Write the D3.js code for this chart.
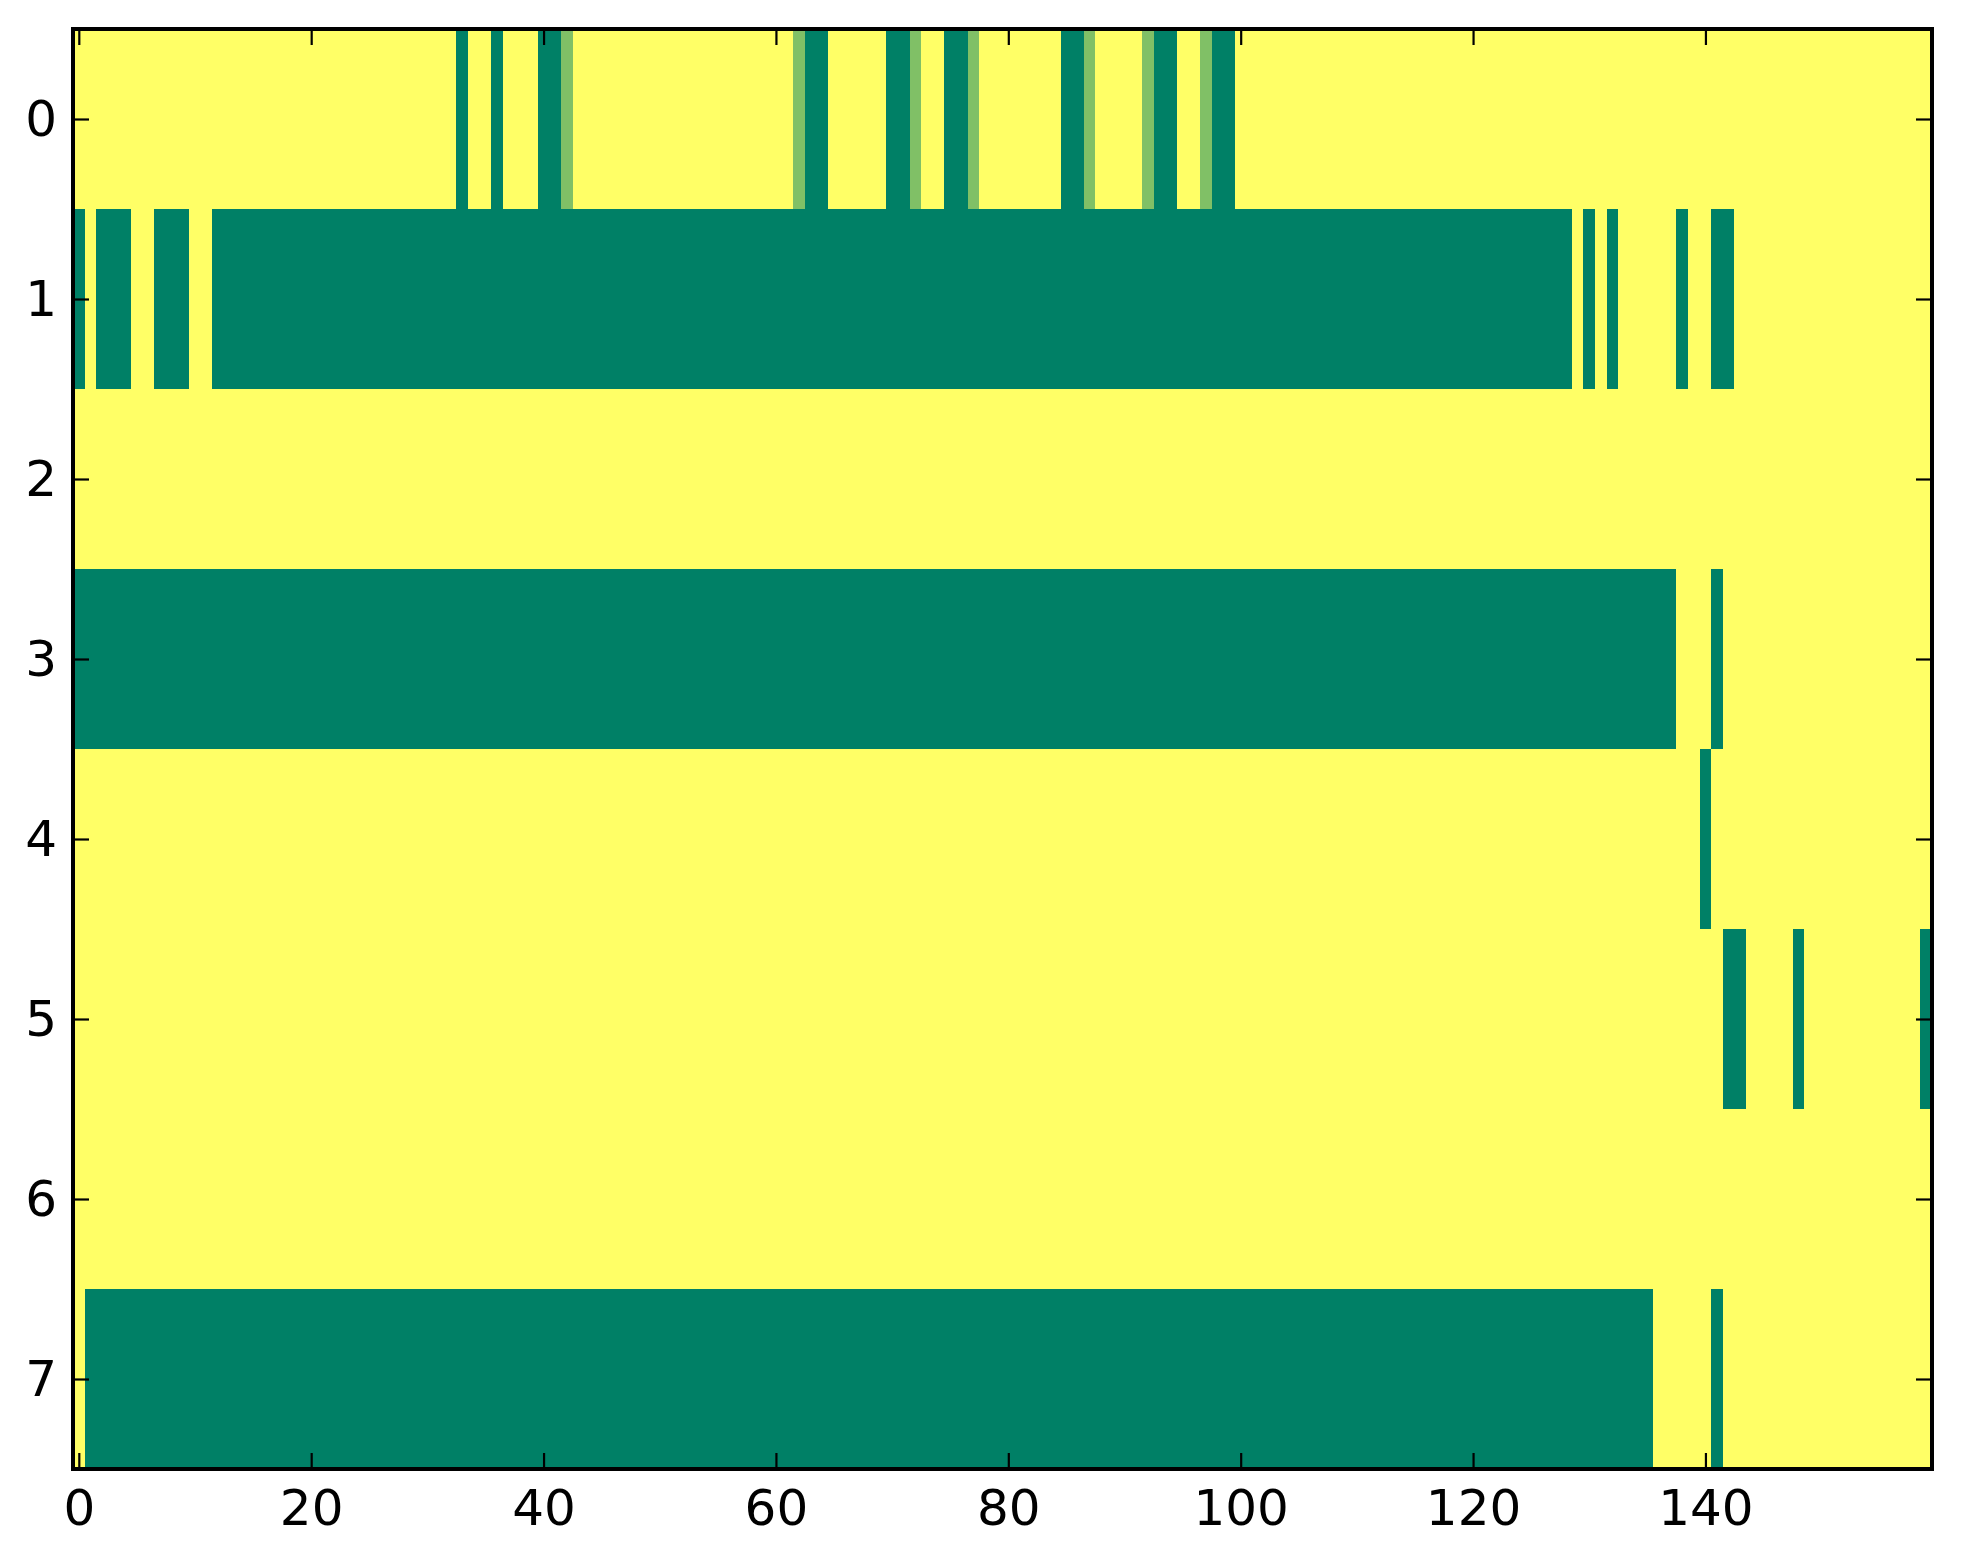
<!DOCTYPE html>
<html>
<head>
<meta charset="utf-8">
<script src="https://cdn.jsdelivr.net/npm/d3@7"></script>
<style>
  html, body { margin: 0; padding: 0; background: #ffffff; }
  svg { display: block; }
  .tick text { font-family: "DejaVu Sans", sans-serif; }
</style>
</head>
<body>
<svg id="chart" width="1963" height="1564"></svg>
<script>
// ---- data (8 rows x 160 columns; 0 = low, 0.5 = mid, 1 = high) ----
const row0 = [
  0,0,0,0,0,0,0,0,0,0, 0,0,0,0,0,0,0,0,0,0,
  0,0,0,0,0,0,0,0,0,0, 0,0,0,1,0,0,1,0,0,0,
  1,1,.5,0,0,0,0,0,0,0, 0,0,0,0,0,0,0,0,0,0,
  0,0,.5,1,1,0,0,0,0,0, 1,1,.5,0,0,1,1,.5,0,0,
  0,0,0,0,0,1,1,.5,0,0, 0,0,.5,1,1,0,0,.5,1,1,
  0,0,0,0,0,0,0,0,0,0, 0,0,0,0,0,0,0,0,0,0,
  0,0,0,0,0,0,0,0,0,0, 0,0,0,0,0,0,0,0,0,0,
  0,0,0,0,0,0,0,0,0,0, 0,0,0,0,0,0,0,0,0,0
];
const row1 = [
  1,0,1,1,1,0,0,1,1,1, 0,0,1,1,1,1,1,1,1,1,
  1,1,1,1,1,1,1,1,1,1, 1,1,1,1,1,1,1,1,1,1,
  1,1,1,1,1,1,1,1,1,1, 1,1,1,1,1,1,1,1,1,1,
  1,1,1,1,1,1,1,1,1,1, 1,1,1,1,1,1,1,1,1,1,
  1,1,1,1,1,1,1,1,1,1, 1,1,1,1,1,1,1,1,1,1,
  1,1,1,1,1,1,1,1,1,1, 1,1,1,1,1,1,1,1,1,1,
  1,1,1,1,1,1,1,1,1,0, 1,0,1,0,0,0,0,0,1,0,
  0,1,1,0,0,0,0,0,0,0, 0,0,0,0,0,0,0,0,0,0
];
const row2 = [
  0,0,0,0,0,0,0,0,0,0, 0,0,0,0,0,0,0,0,0,0,
  0,0,0,0,0,0,0,0,0,0, 0,0,0,0,0,0,0,0,0,0,
  0,0,0,0,0,0,0,0,0,0, 0,0,0,0,0,0,0,0,0,0,
  0,0,0,0,0,0,0,0,0,0, 0,0,0,0,0,0,0,0,0,0,
  0,0,0,0,0,0,0,0,0,0, 0,0,0,0,0,0,0,0,0,0,
  0,0,0,0,0,0,0,0,0,0, 0,0,0,0,0,0,0,0,0,0,
  0,0,0,0,0,0,0,0,0,0, 0,0,0,0,0,0,0,0,0,0,
  0,0,0,0,0,0,0,0,0,0, 0,0,0,0,0,0,0,0,0,0
];
const row3 = [
  1,1,1,1,1,1,1,1,1,1, 1,1,1,1,1,1,1,1,1,1,
  1,1,1,1,1,1,1,1,1,1, 1,1,1,1,1,1,1,1,1,1,
  1,1,1,1,1,1,1,1,1,1, 1,1,1,1,1,1,1,1,1,1,
  1,1,1,1,1,1,1,1,1,1, 1,1,1,1,1,1,1,1,1,1,
  1,1,1,1,1,1,1,1,1,1, 1,1,1,1,1,1,1,1,1,1,
  1,1,1,1,1,1,1,1,1,1, 1,1,1,1,1,1,1,1,1,1,
  1,1,1,1,1,1,1,1,1,1, 1,1,1,1,1,1,1,1,0,0,
  0,1,0,0,0,0,0,0,0,0, 0,0,0,0,0,0,0,0,0,0
];
const row4 = [
  0,0,0,0,0,0,0,0,0,0, 0,0,0,0,0,0,0,0,0,0,
  0,0,0,0,0,0,0,0,0,0, 0,0,0,0,0,0,0,0,0,0,
  0,0,0,0,0,0,0,0,0,0, 0,0,0,0,0,0,0,0,0,0,
  0,0,0,0,0,0,0,0,0,0, 0,0,0,0,0,0,0,0,0,0,
  0,0,0,0,0,0,0,0,0,0, 0,0,0,0,0,0,0,0,0,0,
  0,0,0,0,0,0,0,0,0,0, 0,0,0,0,0,0,0,0,0,0,
  0,0,0,0,0,0,0,0,0,0, 0,0,0,0,0,0,0,0,0,0,
  1,0,0,0,0,0,0,0,0,0, 0,0,0,0,0,0,0,0,0,0
];
const row5 = [
  0,0,0,0,0,0,0,0,0,0, 0,0,0,0,0,0,0,0,0,0,
  0,0,0,0,0,0,0,0,0,0, 0,0,0,0,0,0,0,0,0,0,
  0,0,0,0,0,0,0,0,0,0, 0,0,0,0,0,0,0,0,0,0,
  0,0,0,0,0,0,0,0,0,0, 0,0,0,0,0,0,0,0,0,0,
  0,0,0,0,0,0,0,0,0,0, 0,0,0,0,0,0,0,0,0,0,
  0,0,0,0,0,0,0,0,0,0, 0,0,0,0,0,0,0,0,0,0,
  0,0,0,0,0,0,0,0,0,0, 0,0,0,0,0,0,0,0,0,0,
  0,0,1,1,0,0,0,0,1,0, 0,0,0,0,0,0,0,0,0,1
];
const row6 = [
  0,0,0,0,0,0,0,0,0,0, 0,0,0,0,0,0,0,0,0,0,
  0,0,0,0,0,0,0,0,0,0, 0,0,0,0,0,0,0,0,0,0,
  0,0,0,0,0,0,0,0,0,0, 0,0,0,0,0,0,0,0,0,0,
  0,0,0,0,0,0,0,0,0,0, 0,0,0,0,0,0,0,0,0,0,
  0,0,0,0,0,0,0,0,0,0, 0,0,0,0,0,0,0,0,0,0,
  0,0,0,0,0,0,0,0,0,0, 0,0,0,0,0,0,0,0,0,0,
  0,0,0,0,0,0,0,0,0,0, 0,0,0,0,0,0,0,0,0,0,
  0,0,0,0,0,0,0,0,0,0, 0,0,0,0,0,0,0,0,0,0
];
const row7 = [
  0,1,1,1,1,1,1,1,1,1, 1,1,1,1,1,1,1,1,1,1,
  1,1,1,1,1,1,1,1,1,1, 1,1,1,1,1,1,1,1,1,1,
  1,1,1,1,1,1,1,1,1,1, 1,1,1,1,1,1,1,1,1,1,
  1,1,1,1,1,1,1,1,1,1, 1,1,1,1,1,1,1,1,1,1,
  1,1,1,1,1,1,1,1,1,1, 1,1,1,1,1,1,1,1,1,1,
  1,1,1,1,1,1,1,1,1,1, 1,1,1,1,1,1,1,1,1,1,
  1,1,1,1,1,1,1,1,1,1, 1,1,1,1,1,1,0,0,0,0,
  0,1,0,0,0,0,0,0,0,0, 0,0,0,0,0,0,0,0,0,0
];
const rows = [row0, row1, row2, row3, row4, row5, row6, row7];
const xTickValues = [0, 20, 40, 60, 80, 100, 120, 140];
const yTickValues = [0, 1, 2, 3, 4, 5, 6, 7];

// ---- layout ----
const mLeft = 73, mRight = 1932, mTop = 29, mBottom = 1469;
const nCols = row0.length, nRows = rows.length;

const x = d3.scaleLinear().domain([-0.5, nCols - 0.5]).range([mLeft, mRight]);
const y = d3.scaleLinear().domain([-0.5, nRows - 0.5]).range([mTop, mBottom]);
const color = d3.scaleLinear().domain([0, 1]).range(["#ffff66", "#008066"]).interpolate(d3.interpolateRgb);

const svg = d3.select("#chart");

const cells = [];
rows.forEach((r, i) => r.forEach((v, j) => cells.push({ i, j, v })));

svg.append("g")
  .attr("shape-rendering", "crispEdges")
  .selectAll("rect")
  .data(cells)
  .join("rect")
  .attr("x", d => x(d.j - 0.5))
  .attr("y", d => y(d.i - 0.5))
  .attr("width", d => x(d.j + 0.5) - x(d.j - 0.5) + 0.6)
  .attr("height", d => y(d.i + 0.5) - y(d.i - 0.5) + 0.6)
  .attr("fill", d => color(d.v));

// ---- axes (ticks pointing inward, on all sides) ----
const fontSize = 50;
function styleAxis(g, showText) {
  g.select(".domain").remove();
  g.selectAll(".tick line").attr("stroke", "#000").attr("stroke-width", 2.2);
  g.selectAll(".tick text")
    .attr("fill", "#000")
    .style("font-size", fontSize + "px")
    .style("font-family", "'DejaVu Sans', sans-serif");
  if (!showText) g.selectAll(".tick text").remove();
}

svg.append("g")
  .attr("transform", `translate(0,${mBottom})`)
  .call(d3.axisBottom(x).tickValues(xTickValues).tickSizeInner(-16).tickSizeOuter(0).tickPadding(20).tickFormat(d3.format("d")))
  .call(g => styleAxis(g, true));

svg.append("g")
  .attr("transform", `translate(0,${mTop})`)
  .call(d3.axisTop(x).tickValues(xTickValues).tickSizeInner(-16).tickSizeOuter(0))
  .call(g => styleAxis(g, false));

svg.append("g")
  .attr("transform", `translate(${mLeft},0)`)
  .call(d3.axisLeft(y).tickValues(yTickValues).tickSizeInner(-16).tickSizeOuter(0).tickPadding(16).tickFormat(d3.format("d")))
  .call(g => styleAxis(g, true));

svg.append("g")
  .attr("transform", `translate(${mRight},0)`)
  .call(d3.axisRight(y).tickValues(yTickValues).tickSizeInner(-16).tickSizeOuter(0))
  .call(g => styleAxis(g, false));

// ---- frame ----
svg.append("rect")
  .attr("x", x.range()[0])
  .attr("y", y.range()[0])
  .attr("width", x.range()[1] - x.range()[0])
  .attr("height", y.range()[1] - y.range()[0])
  .attr("fill", "none")
  .attr("stroke", "#000")
  .attr("stroke-width", 4);
</script>
</body>
</html>
